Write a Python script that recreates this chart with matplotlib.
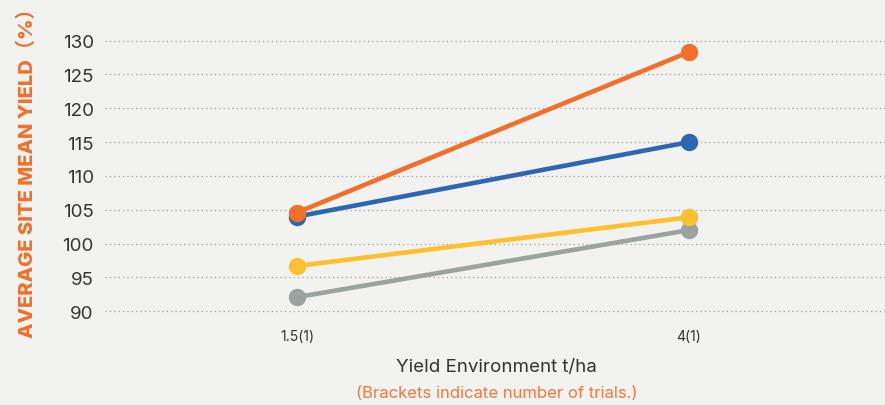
import matplotlib
matplotlib.use("Agg")
import matplotlib.pyplot as plt

categories = ["1.5(1)", "4(1)"]
orange_vals = [104.6, 128.3]
blue_vals = [104.0, 115.0]
yellow_vals = [96.7, 103.9]
grey_vals = [92.1, 102.0]
yticks = [90, 95, 100, 105, 110, 115, 120, 125, 130]

plt.rcParams["font.family"] = ["Inter", "Noto Sans CJK SC", "DejaVu Sans"]
bg = "#f2f2f0"
fig = plt.figure(figsize=(8.85, 4.06), dpi=100, facecolor=bg)
ax = fig.add_axes([0.1186, 0.214, 0.8814, 0.717], facecolor=bg)

x = range(len(categories))
series = [(grey_vals, "#9aa3a0"), (yellow_vals, "#fdc02f"), (blue_vals, "#2e67b1"), (orange_vals, "#f26f2a")]
for vals, col in series:
    ax.plot(x, vals, color=col, lw=3.3, marker="o", ms=11.5, solid_capstyle="round", zorder=3)

ax.set_xlim(-0.49, 1.5)
ax.set_ylim(89, 132)
ax.set_yticks(yticks)
ax.set_xticks(list(x))
ax.set_xticklabels(categories, fontsize=10, color="#333333")
ax.tick_params(axis="y", labelsize=13.5, labelcolor="#333333", length=0, pad=8)
ax.tick_params(axis="x", length=0, pad=8)
ax.grid(axis="y", color="#a0a0a0", linestyle=(0, (1, 2.5)), lw=0.9)
for s in ax.spines.values():
    s.set_visible(False)

fig.text(0.561, 0.095, "Yield Environment t/ha", ha="center", va="center", fontsize=13.5, color="#333333")
fig.text(0.561, 0.032, "(Brackets indicate number of trials.)", ha="center", va="center", fontsize=12, color="#f27a3a")
fig.text(0.031, 0.585, "AVERAGE SITE MEAN YIELD\uff08%\uff09", rotation=90, ha="center", va="center",
         fontsize=14.5, fontweight="heavy", color="#f26f2a")

fig.savefig("out.png", dpi=100, facecolor=bg)
